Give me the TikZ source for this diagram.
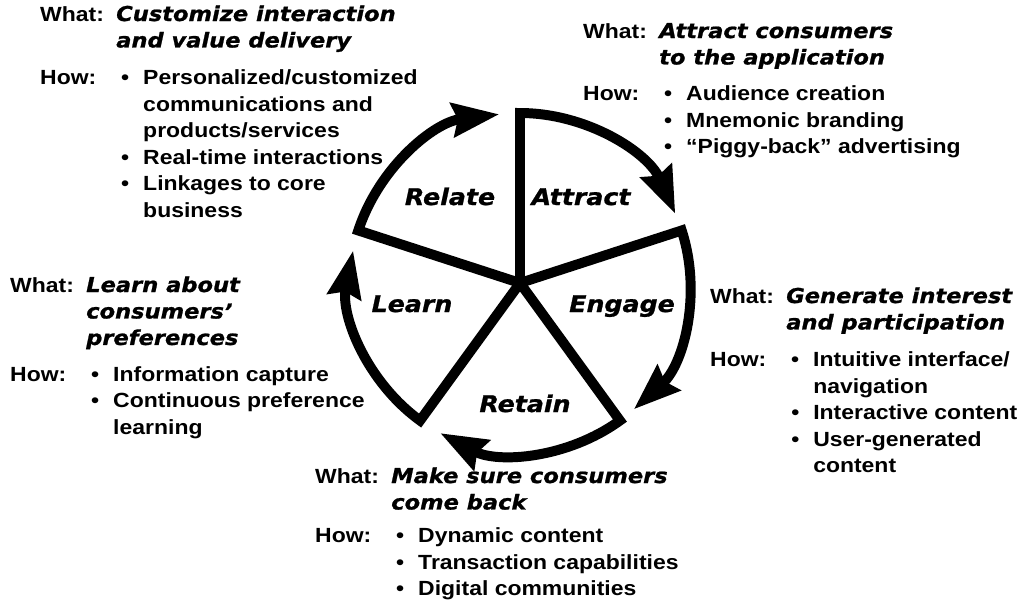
\documentclass[tikz,border=0pt]{standalone}
\usepackage{fontspec}
\usepackage{tikz}
\usetikzlibrary{arrows.meta}

\newfontfamily\bodyfont[FakeStretch=1.12]{Liberation Sans}
\newfontfamily\headfont[FakeStretch=1.10, FakeBold=1]{DejaVu Sans Bold Oblique}
\newcommand{\bodysize}{\fontsize{17.5}{22.6}\selectfont}
\newcommand{\stagesize}{\fontsize{19.6}{22}\selectfont}

% columns of the what/how blocks
\newcommand{\lbl}[1]{\makebox[2.28cm][l]{#1}}
\newcommand{\bul}{\makebox[0.81cm][l]{\hspace{0.15cm}\textbullet}}
\newcommand{\aim}[1]{\multicolumn{2}{@{}l@{}}{\headfont #1}}

\begin{document}
\begin{tikzpicture}[x=0.03cm, y=-0.03cm]
		\tikzstyle{info} = [anchor=base west, inner sep=0pt, font=\bodyfont\bfseries\bodysize]
		\tikzstyle{stage} = [anchor=base, inner sep=0pt, font=\headfont\stagesize]
		\tikzstyle{cycleArc} = [line width=8.5pt, line join=miter,
		-{Stealth[length=1.4cm, width=1.0cm, inset=0.15cm]}]
		\useasboundingbox (0,0) rectangle (1021,605);
		\coordinate (hub) at (520,283);
		% the wheel: spoke out, then clockwise round to the next stage
		\draw [cycleArc] (hub) -- ++(-90:170) arc [start angle=-90, end angle=-24, radius=170];
		\draw [cycleArc] (hub) -- ++(-18:170) arc [start angle=-18, end angle=48, radius=170];
		\draw [cycleArc] (hub) -- ++(54:170) arc [start angle=54, end angle=118, radius=170];
		\draw [cycleArc] (hub) -- ++(126:170) arc [start angle=126, end angle=191, radius=170];
		\draw [cycleArc] (hub) -- ++(198:170) arc [start angle=198, end angle=263, radius=170];
		\node (relateLabel) [stage] at (450,205) {Relate};
		\node (attractLabel) [stage] at (581,205) {Attract};
		\node (learnLabel) [stage] at (412,312) {Learn};
		\node (engageLabel) [stage] at (622,312) {Engage};
		\node (retainLabel) [stage] at (525,412) {Retain};
		% what/how blocks round the wheel
		\node (relateText) [info] at (40,21) {\begin{tabular}[t]{@{}l@{}l@{}l@{}}
			\lbl{What:} & \aim{Customize interaction}\\
			& \aim{and value delivery}\\[0.33cm]
			\lbl{How:} & \bul & Personalized/customized\\
			& & communications and\\
			& & products/services\\
			& \bul & Real-time interactions\\
			& \bul & Linkages to core\\
			& & business
		\end{tabular}};
		\node (attractText) [info] at (583,38) {\begin{tabular}[t]{@{}l@{}l@{}l@{}}
			\lbl{What:} & \aim{Attract consumers}\\
			& \aim{to the application}\\[0.3cm]
			\lbl{How:} & \bul & Audience creation\\
			& \bul & Mnemonic branding\\
			& \bul & “Piggy-back” advertising
		\end{tabular}};
		\node (learnText) [info] at (10,292) {\begin{tabular}[t]{@{}l@{}l@{}l@{}}
			\lbl{What:} & \aim{Learn about}\\
			& \aim{consumers’}\\
			& \aim{preferences}\\[0.3cm]
			\lbl{How:} & \bul & Information capture\\
			& \bul & Continuous preference\\
			& & learning
		\end{tabular}};
		\node (engageText) [info] at (710,303) {\begin{tabular}[t]{@{}l@{}l@{}l@{}}
			\lbl{What:} & \aim{Generate interest}\\
			& \aim{and participation}\\[0.33cm]
			\lbl{How:} & \bul & Intuitive interface/\\
			& & navigation\\
			& \bul & Interactive content\\
			& \bul & User-generated\\
			& & content
		\end{tabular}};
		\node (retainText) [info] at (315,483) {\begin{tabular}[t]{@{}l@{}l@{}l@{}}
			\lbl{What:} & \aim{Make sure consumers}\\
			& \aim{come back}\\[0.2cm]
			\lbl{How:} & \bul & Dynamic content\\
			& \bul & Transaction capabilities\\
			& \bul & Digital communities
		\end{tabular}};
\end{tikzpicture}
\end{document}
